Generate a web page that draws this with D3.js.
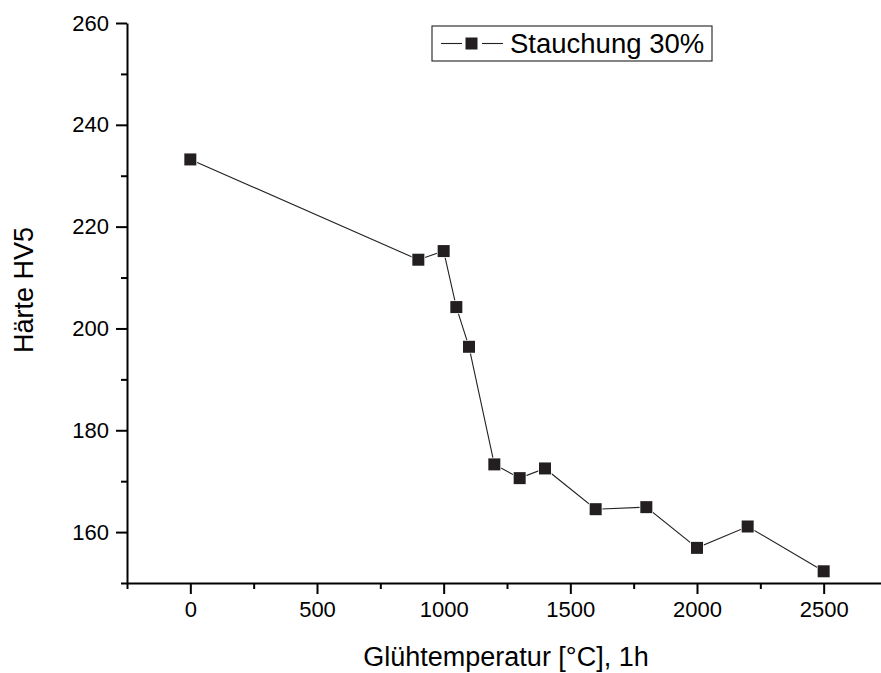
<!DOCTYPE html>
<html>
<head>
<meta charset="utf-8">
<script src="https://cdn.jsdelivr.net/npm/d3@7/dist/d3.min.js"></script>
<style>
  html, body { margin: 0; padding: 0; background: #fff; }
  svg { display: block; font-family: "Liberation Sans", Arial, sans-serif; }
</style>
</head>
<body>
<svg id="chart" width="881" height="673"></svg>
<script>
// Annealing temperature (°C, 1h) and resulting hardness HV5
const temperatures = [0, 900, 1000, 1050, 1100, 1200, 1300, 1400, 1600, 1800, 2000, 2200, 2500];
const hardness     = [233.2, 213.5, 215.2, 204.2, 196.4, 173.3, 170.6, 172.5, 164.5, 164.9, 156.9, 161.1, 152.3];
const seriesName = "Stauchung 30%";
const xTicks = [0, 500, 1000, 1500, 2000, 2500];
const xMinorTicks = [-250, 250, 750, 1250, 1750, 2250, 2750];
const yTicks = [160, 180, 200, 220, 240, 260];
const yMinorTicks = [150, 170, 190, 210, 230, 250];
const xTitle = "Glühtemperatur [°C], 1h";
const yTitle = "Härte HV5";

const svg = d3.select("#chart");
const plotLeft = 127, plotTop = 23, plotBottom = 583, plotRight = 887;

const x = d3.scaleLinear().domain([-250, 2750]).range([plotLeft, plotRight]);
const y = d3.scaleLinear().domain([150, 260]).range([plotBottom, plotTop]);

const ink = "#000";
const markFill = "#231f20";

// X axis: major ticks with labels, minor ticks without
const gx = svg.append("g").attr("transform", `translate(0,${plotBottom})`);
gx.call(d3.axisBottom(x).tickValues(xTicks).tickSize(11).tickSizeOuter(0).tickPadding(7).tickFormat(d3.format("d")));
const gxm = svg.append("g").attr("transform", `translate(0,${plotBottom})`);
gxm.call(d3.axisBottom(x).tickValues(xMinorTicks).tickSize(6).tickSizeOuter(0).tickFormat(""));
gxm.select(".domain").remove();

// Y axis
const gy = svg.append("g").attr("transform", `translate(${plotLeft},0)`);
gy.call(d3.axisLeft(y).tickValues(yTicks).tickSize(11).tickSizeOuter(0).tickPadding(7).tickFormat(d3.format("d")));
const gym = svg.append("g").attr("transform", `translate(${plotLeft},0)`);
gym.call(d3.axisLeft(y).tickValues(yMinorTicks).tickSize(6).tickSizeOuter(0).tickFormat(""));
gym.select(".domain").remove();

svg.selectAll(".domain").attr("stroke", ink).attr("stroke-width", 2);
svg.selectAll(".tick line").attr("stroke", ink).attr("stroke-width", 2);
svg.selectAll(".tick text")
  .attr("fill", ink)
  .style("font-size", "22px")
  .style("font-family", "Liberation Sans, Arial, sans-serif");

// Axis titles
svg.append("text")
  .attr("x", (plotLeft + plotRight) / 2 - 1)
  .attr("y", 666)
  .attr("text-anchor", "middle")
  .style("font-size", "27px")
  .attr("fill", ink)
  .text(xTitle);

svg.append("text")
  .attr("transform", "translate(33,290) rotate(-90)")
  .attr("text-anchor", "middle")
  .style("font-size", "27px")
  .attr("fill", ink)
  .text(yTitle);

// Data line and square markers
const data = temperatures.map((t, i) => ({ t, h: hardness[i] }));
svg.append("path")
  .datum(data)
  .attr("fill", "none")
  .attr("stroke", "#222")
  .attr("stroke-width", 1.1)
  .attr("d", d3.line().x(d => x(d.t)).y(d => y(d.h)));

const ms = 12;
svg.append("g").selectAll("rect")
  .data(data)
  .join("rect")
  .attr("x", d => x(d.t) - ms / 2)
  .attr("y", d => y(d.h) - ms / 2)
  .attr("width", ms)
  .attr("height", ms)
  .attr("fill", markFill)
  .attr("stroke", "#fff")
  .attr("stroke-width", 1.5)
  .attr("paint-order", "stroke");

// Legend
const lg = svg.append("g").attr("transform", "translate(432,26)");
lg.append("rect")
  .attr("x", 0).attr("y", 0).attr("width", 280).attr("height", 35)
  .attr("fill", "#fff").attr("stroke", "#333").attr("stroke-width", 1.2);
lg.append("line").attr("x1", 9).attr("x2", 30).attr("y1", 17.5).attr("y2", 17.5)
  .attr("stroke", "#222").attr("stroke-width", 1.1);
lg.append("line").attr("x1", 50).attr("x2", 71).attr("y1", 17.5).attr("y2", 17.5)
  .attr("stroke", "#222").attr("stroke-width", 1.1);
lg.append("rect").attr("x", 33.5).attr("y", 11.5).attr("width", 12).attr("height", 12)
  .attr("fill", markFill);
lg.append("text")
  .attr("x", 78).attr("y", 27)
  .style("font-size", "27.5px")
  .attr("fill", ink)
  .text(seriesName);
</script>
</body>
</html>
